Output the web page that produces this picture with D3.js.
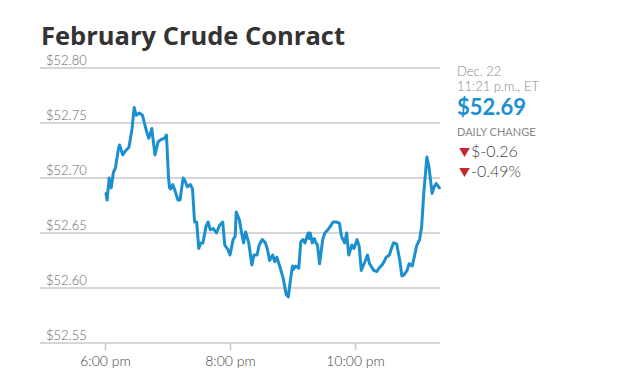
<!DOCTYPE html>
<html>
<head>
<meta charset="utf-8">
<script src="https://cdn.jsdelivr.net/npm/d3@7"></script>
<style>
  html, body { margin: 0; padding: 0; background: #fff; }
  svg { display: block; }
</style>
</head>
<body>
<svg id="chart" width="627" height="379"></svg>
<script>
// ---- Data ----
const title = "February Crude Conract";
// minutes after 6:00 pm, Dec. 22
const minutes = [1,2,4,6,8,10,13,14,17,20,23,26,28,30,33,36,40,42,45,46,48,51,54,57,59,61,62,63,65,67,70,72,75,77,79,82,84,86,88,90,92,94,97,99,101,104,107,110,113,115,118,120,123,125,126,129,131,133,135,138,141,143,146,148,151,154,156,158,161,163,165,168,171,174,176,178,180,181,183,186,188,190,192,195,196,197,199,201,202,204,206,209,211,214,217,219,222,225,227,230,232,234,237,239,242,244,246,250,252,254,258,261,263,266,268,270,273,275,277,280,283,285,287,290,292,295,298,299,302,304,306,309,311,314,316,318,321];
const prices = [52.686,52.680,52.700,52.691,52.705,52.709,52.727,52.730,52.721,52.725,52.728,52.745,52.764,52.757,52.759,52.757,52.742,52.736,52.745,52.736,52.721,52.733,52.735,52.736,52.739,52.700,52.691,52.690,52.694,52.689,52.680,52.680,52.700,52.697,52.692,52.694,52.690,52.660,52.660,52.636,52.641,52.641,52.656,52.660,52.653,52.654,52.650,52.657,52.660,52.639,52.635,52.630,52.644,52.647,52.669,52.662,52.651,52.641,52.651,52.641,52.621,52.630,52.630,52.639,52.644,52.641,52.635,52.625,52.630,52.624,52.628,52.619,52.609,52.594,52.592,52.607,52.620,52.617,52.620,52.618,52.642,52.644,52.641,52.650,52.645,52.650,52.641,52.645,52.642,52.639,52.622,52.644,52.650,52.653,52.657,52.660,52.660,52.659,52.647,52.641,52.650,52.630,52.639,52.636,52.644,52.638,52.616,52.625,52.630,52.622,52.616,52.615,52.618,52.621,52.624,52.628,52.630,52.636,52.641,52.640,52.625,52.611,52.612,52.616,52.622,52.620,52.633,52.638,52.644,52.656,52.686,52.719,52.710,52.686,52.692,52.695,52.691];
const yTicks = [52.55, 52.60, 52.65, 52.70, 52.75, 52.80];
const xTickHours = [18, 20, 22];
const xTickLabels = ["6:00 pm", "8:00 pm", "10:00 pm"];
const infoDate = "Dec. 22";
const infoTime = "11:21 p.m., ET";
const lastPrice = "$52.69";
const changeLabel = "DAILY CHANGE";
const changes = ["$-0.26", "-0.49%"];

// ---- Drawing ----
const svg = d3.select("#chart");
const base = new Date(2016, 11, 22, 18, 0);
const toDate = m => new Date(base.getTime() + m * 60000);
const data = minutes.map((m, i) => ({ t: toDate(m), v: prices[i] }));

const x = d3.scaleTime()
  .domain([new Date(2016, 11, 22, 18, 0), new Date(2016, 11, 22, 22, 0)])
  .range([105, 355]);
const y = d3.scaleLinear().domain([52.55, 52.80]).range([343, 68]);

const gridLeft = 40, gridRight = 440;

// title
svg.append("text")
  .attr("x", 41).attr("y", 45)
  .attr("font-family", "'Open Sans', sans-serif")
  .attr("font-weight", 700)
  .attr("font-size", 25.5)
  .attr("fill", "#333")
  .text(title);

// gridlines + y labels
const gy = svg.append("g");
gy.selectAll("line").data(yTicks).join("line")
  .attr("x1", gridLeft).attr("x2", gridRight)
  .attr("y1", d => y(d)).attr("y2", d => y(d))
  .attr("stroke", "#c8c8c8").attr("stroke-width", 1.6);
gy.selectAll("text").data(yTicks).join("text")
  .attr("x", 46).attr("y", d => y(d) - 3)
  .attr("font-family", "Lato, sans-serif")
  .attr("font-weight", 300)
  .attr("font-size", 13)
  .attr("fill", "#666")
  .text(d => "$" + d.toFixed(2));

// x axis ticks & labels
const xAxis = d3.axisBottom(x)
  .tickValues(xTickHours.map(h => new Date(2016, 11, 22, h, 0)))
  .tickFormat((d, i) => xTickLabels[i])
  .tickSize(7).tickPadding(6);
const gx = svg.append("g").attr("transform", `translate(0,${y(52.55)})`).call(xAxis);
gx.select(".domain").remove();
gx.selectAll(".tick line").attr("stroke", "#c8c8c8").attr("stroke-width", 1.5);
gx.selectAll(".tick text")
  .attr("font-family", "Lato, sans-serif")
  .attr("font-weight", 300)
  .attr("font-size", 14)
  .attr("fill", "#444");

// line
const line = d3.line().x(d => x(d.t)).y(d => y(d.v)).curve(d3.curveLinear);
svg.append("path").datum(data)
  .attr("d", line)
  .attr("fill", "none")
  .attr("stroke", "#1b90d0")
  .attr("stroke-width", 3)
  .attr("stroke-linejoin", "round")
  .attr("stroke-linecap", "round");

// info panel
const info = svg.append("g").attr("font-family", "Lato, sans-serif");
info.append("text").attr("x", 457).attr("y", 76)
  .attr("font-size", 13).attr("font-weight", 300).attr("fill", "#888").text(infoDate);
info.append("text").attr("x", 457).attr("y", 91)
  .attr("font-size", 13).attr("font-weight", 300).attr("fill", "#888").text(infoTime);
info.append("text").attr("x", 457).attr("y", 115)
  .attr("font-size", 22).attr("font-weight", 700).attr("fill", "#1b90d0").text(lastPrice);
info.append("text").attr("x", 457).attr("y", 136)
  .attr("font-size", 11).attr("font-weight", 400).attr("fill", "#888").text(changeLabel);

const tri = d3.symbol().type(d3.symbolTriangle).size(48);
changes.forEach((c, i) => {
  const by = 157 + i * 20;
  info.append("path")
    .attr("d", tri())
    .attr("transform", `translate(464.5,${by - 6}) rotate(180)`)
    .attr("fill", "#c1272d");
  info.append("text").attr("x", 471).attr("y", by)
    .attr("font-size", 16).attr("font-weight", 300).attr("fill", "#444").text(c);
});
</script>
</body>
</html>
